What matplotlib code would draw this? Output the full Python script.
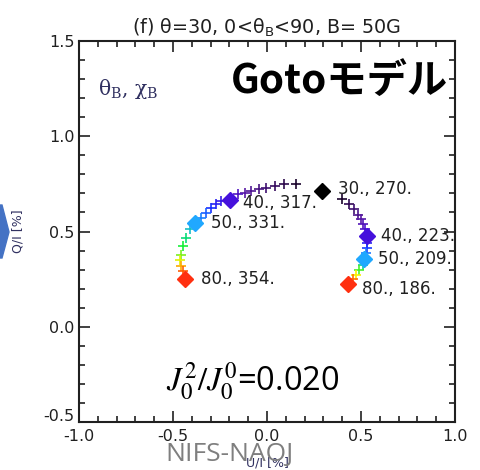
import matplotlib
matplotlib.use("Agg")
import matplotlib.pyplot as plt
import numpy as np
from matplotlib.colors import LinearSegmentedColormap
from matplotlib.patches import Polygon
from matplotlib.transforms import ScaledTranslation

# ---- data ----
left_plus_x = [0.155, 0.093, 0.040, -0.004, -0.043, -0.084, -0.119, -0.155,
               -0.243, -0.270, -0.296, -0.323, -0.349,
               -0.411, -0.429, -0.447, -0.455, -0.461, -0.455, -0.447]
left_plus_y = [0.747, 0.747, 0.738, 0.730, 0.721, 0.712, 0.704, 0.695,
               0.660, 0.642, 0.625, 0.598, 0.572,
               0.511, 0.467, 0.423, 0.379, 0.353, 0.317, 0.291]
left_plus_th = [31, 32, 33, 34, 35, 36, 37, 38.5,
                41.5, 43, 45, 47, 48.5,
                53, 57, 61, 65, 69, 73, 77]

right_plus_x = [0.399, 0.438, 0.464, 0.482, 0.500, 0.512, 0.523,
                0.530, 0.530, 0.526,
                0.508, 0.491, 0.473, 0.455]
right_plus_y = [0.668, 0.642, 0.616, 0.589, 0.563, 0.537, 0.511,
                0.440, 0.414, 0.388,
                0.326, 0.300, 0.274, 0.251]
right_plus_th = [31, 32.5, 34, 35.5, 37, 38, 39,
                 43, 45.5, 48,
                 56, 63, 70, 76]

diam_x = [0.29, -0.199, -0.385, -0.438, 0.530, 0.517, 0.429]
diam_y = [0.71, 0.665, 0.542, 0.251, 0.479, 0.356, 0.226]
diam_th = [30, 40, 50, 80, 40, 50, 80]
diam_labels = ["30., 270.", "40., 317.", "50., 331.", "80., 354.",
               "40., 223.", "50., 209.", "80., 186."]

xticks = [-1.0, -0.5, 0.0, 0.5, 1.0]
yticks = [-0.5, 0.0, 0.5, 1.0, 1.5]

cmap = LinearSegmentedColormap.from_list("rb", [
    (0.0, "#000000"), (0.03, "#2a0845"), (0.14, "#5a1aa8"), (0.2, "#4510dc"),
    (0.3, "#1830ff"), (0.4, "#20a8ff"),
    (0.6, "#00f040"), (0.8, "#f8f000"), (0.9, "#ff8000"), (1.0, "#ff3010")])
def col(t):
    return cmap((t - 30) / 50.0)

fig = plt.figure(figsize=(4.81, 4.70), dpi=100)
ax = fig.add_axes([79/481, 1-422/470, 376/481, 381/470])
ax.set_xlim(-1.0, 1.0)
ax.set_ylim(-0.5, 1.5)

for x, y, t in zip(left_plus_x + right_plus_x, left_plus_y + right_plus_y,
                   left_plus_th + right_plus_th):
    ax.plot(x, y, marker="+", color=col(t), markersize=7.5, mew=1.2, ls="none")

offsets = [(12, 2), (10, -2), (12, 0), (12, 0), (10, 0), (10, 0), (10, -4)]
for x, y, t, lab, off in zip(diam_x, diam_y, diam_th, diam_labels, offsets):
    ax.plot(x, y, marker="D", color=col(t), markersize=8.5, ls="none")
    ax.annotate(lab, (x, y), xytext=off, textcoords="offset points",
                ha="left", va="center", fontsize=12, color="#202020",
                family="DejaVu Sans")

ax.set_xticks(xticks)
ax.set_yticks(yticks)
ax.set_xticklabels([f"{v:.1f}" for v in xticks])
ax.set_yticklabels([f"{v:.1f}" for v in yticks])
ax.xaxis.set_minor_locator(matplotlib.ticker.MultipleLocator(0.1))
ax.yaxis.set_minor_locator(matplotlib.ticker.MultipleLocator(0.1))
ax.tick_params(which="both", direction="in", top=True, right=True,
               labelsize=11.5, colors="#202020", width=1.2)
ax.tick_params(which="major", length=8)
ax.tick_params(which="minor", length=4.5)
ax.tick_params(axis="x", which="major", pad=5)
ax.tick_params(axis="y", which="major", pad=3)
for s in ax.spines.values():
    s.set_linewidth(1.5)
    s.set_color("#202020")

fig.canvas.draw()
ylabs = ax.get_yticklabels()
ylabs[0].set_transform(ylabs[0].get_transform() +
                       ScaledTranslation(0, 7/100, fig.dpi_scale_trans))

ax.set_title("(f) θ=30, 0<θ$_\\mathregular{B}$<90, B= 50G", fontsize=13.8,
             color="#202020", pad=5)
ax.set_xlabel("U/I [%]", fontsize=9, color="#303060", labelpad=9)
ax.set_ylabel("Q/I [%]", fontsize=9, color="#303060", labelpad=14)

ax.text(0.05, 0.875, "θ$_\\mathregular{B}$, χ$_\\mathregular{B}$",
        transform=ax.transAxes, fontsize=14.5, color="#303060",
        family="DejaVu Serif", ha="left", va="center")
ax.text(0.982, 0.895, "Gotoモデル", transform=ax.transAxes, fontsize=29,
        fontweight="bold", family=["Noto Sans CJK JP", "DejaVu Sans"],
        ha="right", va="center", color="black")

plt.rcParams["mathtext.fontset"] = "stix"
fig.text(253/481, 1-381/470, "$J_0^2/J_0^0$=0.020", fontsize=23.5,
         family="Open Sans", ha="center", va="center", color="black")
fig.text(230/481, 1-455/470, "NIFS-NAOJ", fontsize=19, family="Open Sans",
         ha="center", va="center", color="#7f7f7f")

fig.patches.append(Polygon([(0, 1-205/470), (2/481, 1-205/470),
                            (9/481, 1-232/470), (2/481, 1-258/470),
                            (0, 1-258/470)], closed=True,
                           transform=fig.transFigure, color="#4472c4"))

fig.savefig("out.png", dpi=100)
